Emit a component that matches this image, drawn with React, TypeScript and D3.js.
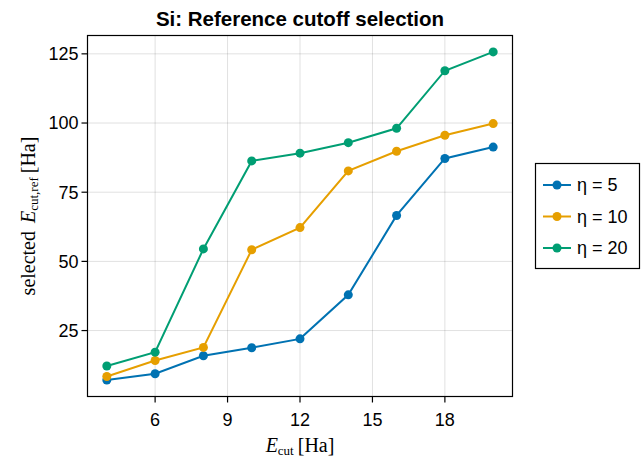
import React from "react";
import * as d3 from "d3";

const cutoffs = [4, 6, 8, 10, 12, 14, 16, 18, 20];
const eta5 = [7.1, 9.4, 15.9, 18.8, 22.0, 37.9, 66.6, 87.2, 91.3];
const eta10 = [8.4, 14.2, 18.9, 54.2, 62.2, 82.7, 89.8, 95.6, 99.8];
const eta20 = [12.2, 17.2, 54.5, 86.3, 89.1, 92.9, 98.1, 118.9, 125.7];
const seriesNames = ["η = 5", "η = 10", "η = 20"];
const colors = ["#0072B2", "#E69F00", "#009E73"];
const xTicks = [6, 9, 12, 15, 18];
const yTicks = [25, 50, 75, 100, 125];

const W = 641;
const H = 458;
const M = { left: 87.5, right: 512.5, top: 35.5, bottom: 396.5 };

export default function App() {
  const all = [eta5, eta10, eta20];
  const xPad = (d3.max(cutoffs)! - d3.min(cutoffs)!) * 0.05;
  const yMin = d3.min(all.flat())!;
  const yMax = d3.max(all.flat())!;
  const yPad = (yMax - yMin) * 0.05;

  const x = d3
    .scaleLinear()
    .domain([d3.min(cutoffs)! - xPad, d3.max(cutoffs)! + xPad])
    .range([M.left, M.right]);
  const y = d3
    .scaleLinear()
    .domain([yMin - yPad, yMax + yPad])
    .range([M.bottom, M.top]);

  const line = d3
    .line<number>()
    .x((_, i) => x(cutoffs[i]))
    .y((d) => y(d));

  const sans = "'Liberation Sans', Arial, sans-serif";
  const serif = "'Liberation Serif', 'DejaVu Serif', serif";

  return (
    <svg
      width={W}
      height={H}
      style={{ position: "absolute", left: 0, top: 0, background: "#fff" }}
      fontFamily={sans}
    >
      <text x={(M.left + M.right) / 2} y={26} textAnchor="middle" fontSize={20.5} fontWeight="bold">
        Si: Reference cutoff selection
      </text>

      {/* grid */}
      {xTicks.map((t) => (
        <line key={"gx" + t} x1={x(t)} x2={x(t)} y1={M.top} y2={M.bottom} stroke="#000" strokeOpacity={0.12} />
      ))}
      {yTicks.map((t) => (
        <line key={"gy" + t} x1={M.left} x2={M.right} y1={y(t)} y2={y(t)} stroke="#000" strokeOpacity={0.12} />
      ))}

      {/* series */}
      {all.map((s, k) => (
        <g key={k}>
          <path d={line(s)!} fill="none" stroke={colors[k]} strokeWidth={2} />
          {s.map((v, i) => (
            <circle key={i} cx={x(cutoffs[i])} cy={y(v)} r={4.5} fill={colors[k]} />
          ))}
        </g>
      ))}

      {/* frame */}
      <rect x={M.left} y={M.top} width={M.right - M.left} height={M.bottom - M.top} fill="none" stroke="#000" strokeWidth={1.2} />

      {/* x axis */}
      {xTicks.map((t) => (
        <g key={"xt" + t}>
          <line x1={x(t)} x2={x(t)} y1={M.bottom} y2={M.bottom + 6} stroke="#000" strokeWidth={1.2} />
          <text x={x(t)} y={426} textAnchor="middle" fontSize={18}>
            {t}
          </text>
        </g>
      ))}
      {yTicks.map((t) => (
        <g key={"yt" + t}>
          <line x1={M.left - 6} x2={M.left} y1={y(t)} y2={y(t)} stroke="#000" strokeWidth={1.2} />
          <text x={M.left - 9} y={y(t)} dy="0.35em" textAnchor="end" fontSize={18}>
            {t}
          </text>
        </g>
      ))}

      <text x={(M.left + M.right) / 2} y={452} textAnchor="middle" fontFamily={serif} fontSize={20}>
        <tspan fontStyle="italic">E</tspan>
        <tspan fontSize={13} dy={3}>cut</tspan>
        <tspan dy={-3} dx={4}>[Ha]</tspan>
      </text>

      <text
        transform={`translate(35, ${(M.top + M.bottom) / 2}) rotate(-90)`}
        textAnchor="middle"
        fontFamily={serif}
        fontSize={20}
      >
        <tspan>selected</tspan>
        <tspan fontStyle="italic" dx={8}>E</tspan>
        <tspan fontSize={13} dy={3}>cut,ref</tspan>
        <tspan dy={-3} dx={4}>[Ha]</tspan>
      </text>

      {/* legend */}
      <rect x={535.5} y={163.5} width={104} height={105} fill="#fff" stroke="#000" strokeWidth={1.2} />
      {seriesNames.map((n, k) => {
        const ly = 185 + k * 31.5;
        return (
          <g key={n}>
            <line x1={543} x2={571} y1={ly} y2={ly} stroke={colors[k]} strokeWidth={2} />
            <circle cx={557} cy={ly} r={4.5} fill={colors[k]} />
            <text x={577} y={ly} dy="0.35em" fontSize={18}>
              {n}
            </text>
          </g>
        );
      })}
    </svg>
  );
}
